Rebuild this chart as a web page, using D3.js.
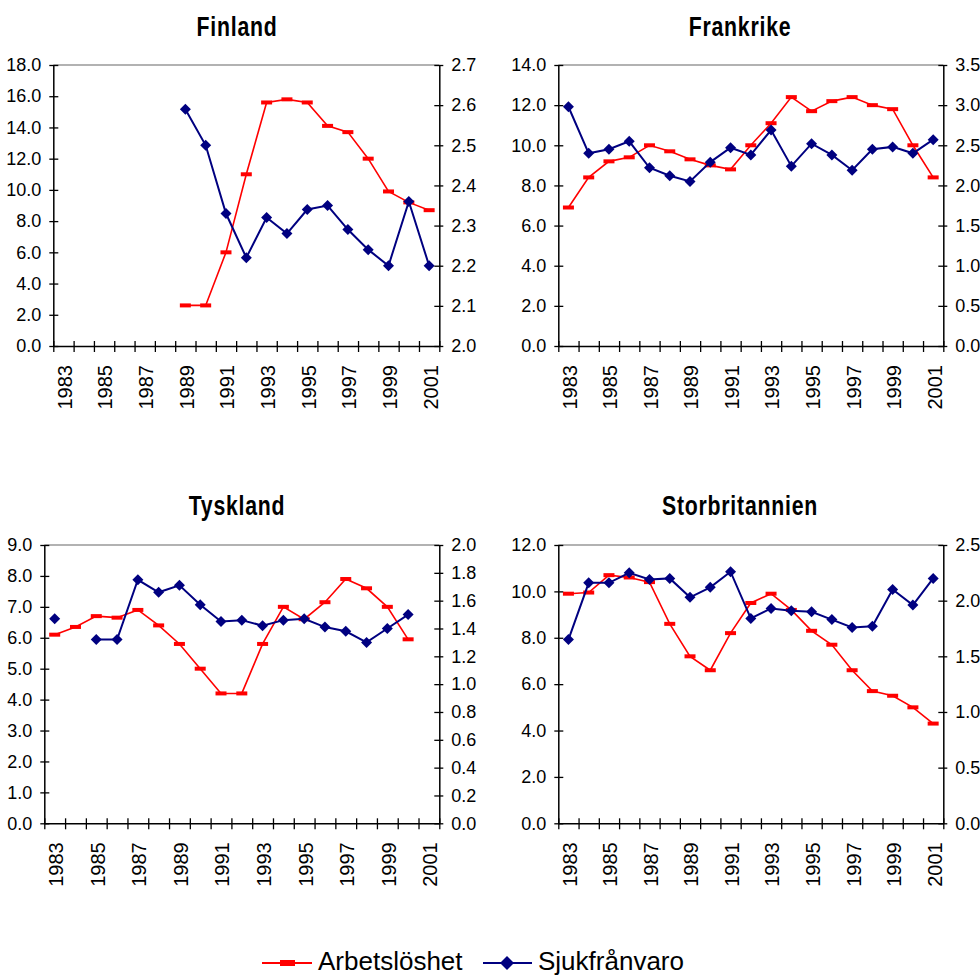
<!DOCTYPE html>
<html>
<head>
<meta charset="utf-8">
<script src="https://cdn.jsdelivr.net/npm/d3@7"></script>
<style>
  html, body { margin: 0; padding: 0; background: #fff; }
  svg { display: block; font-family: "Liberation Sans", Arial, sans-serif; }
</style>
</head>
<body>
<svg id="chart" width="980" height="975"></svg>
<script>
// Years on the category axis (every other one is labelled)
const years = [1983, 1984, 1985, 1986, 1987, 1988, 1989, 1990, 1991, 1992,
               1993, 1994, 1995, 1996, 1997, 1998, 1999, 2000, 2001];
const labelledYears = [1983, 1985, 1987, 1989, 1991, 1993, 1995, 1997, 1999, 2001];

// Arbetslöshet (left axis, %) and Sjukfrånvaro (right axis) per country
const finlandArbets = [null, null, null, null, null, null, 2.6, 2.6, 6.0, 11.0,
                       15.6, 15.8, 15.6, 14.1, 13.7, 12.0, 9.9, 9.2, 8.7];
const finlandSjuk   = [null, null, null, null, null, null, 2.59, 2.50, 2.33, 2.22,
                       2.32, 2.28, 2.34, 2.35, 2.29, 2.24, 2.20, 2.36, 2.20];

const frankrikeArbets = [6.9, 8.4, 9.2, 9.4, 10.0, 9.7, 9.3, 9.0, 8.8, 10.0,
                         11.1, 12.4, 11.7, 12.2, 12.4, 12.0, 11.8, 10.0, 8.4];
const frankrikeSjuk   = [2.98, 2.40, 2.45, 2.55, 2.22, 2.12, 2.05, 2.29, 2.47, 2.38,
                         2.69, 2.24, 2.52, 2.38, 2.19, 2.45, 2.48, 2.40, 2.57];

const tysklandArbets = [6.1, 6.35, 6.7, 6.65, 6.9, 6.4, 5.8, 5.0, 4.2, 4.2,
                        5.8, 7.0, 6.6, 7.15, 7.9, 7.6, 7.0, 5.95, null];
const tysklandSjuk   = [1.47, null, 1.32, 1.32, 1.75, 1.66, 1.71, 1.57, 1.45, 1.46,
                        1.42, 1.46, 1.47, 1.41, 1.38, 1.30, 1.40, 1.50, null];

const storbritArbets = [9.9, 9.95, 10.7, 10.6, 10.4, 8.6, 7.2, 6.6, 8.2, 9.5,
                        9.9, 9.2, 8.3, 7.7, 6.6, 5.7, 5.5, 5.0, 4.3];
const storbritSjuk   = [1.65, 2.16, 2.16, 2.25, 2.19, 2.20, 2.03, 2.12, 2.26, 1.84,
                        1.93, 1.91, 1.90, 1.83, 1.76, 1.77, 2.10, 1.96, 2.20];

// Axis tick values
const finlandLeftTicks    = [0, 2, 4, 6, 8, 10, 12, 14, 16, 18];
const finlandRightTicks   = [2.0, 2.1, 2.2, 2.3, 2.4, 2.5, 2.6, 2.7];
const frankrikeLeftTicks  = [0, 2, 4, 6, 8, 10, 12, 14];
const frankrikeRightTicks = [0, 0.5, 1.0, 1.5, 2.0, 2.5, 3.0, 3.5];
const tysklandLeftTicks   = [0, 1, 2, 3, 4, 5, 6, 7, 8, 9];
const tysklandRightTicks  = [0, 0.2, 0.4, 0.6, 0.8, 1.0, 1.2, 1.4, 1.6, 1.8, 2.0];
const storbritLeftTicks   = [0, 2, 4, 6, 8, 10, 12];
const storbritRightTicks  = [0, 0.5, 1.0, 1.5, 2.0, 2.5];

const titles = ["Finland", "Frankrike", "Tyskland", "Storbritannien"];
const seriesNames = ["Arbetslöshet", "Sjukfrånvaro"];

const RED = "#ff0000";
const NAVY = "#000080";

// Layout of the four panels
const panels = [
  { title: titles[0], arb: finlandArbets, sjuk: finlandSjuk,
    lt: finlandLeftTicks, rt: finlandRightTicks,
    x0: 53.3, x1: 439.3, y0: 65, y1: 346, tx: 237, ty: 36 },
  { title: titles[1], arb: frankrikeArbets, sjuk: frankrikeSjuk,
    lt: frankrikeLeftTicks, rt: frankrikeRightTicks,
    x0: 558.3, x1: 943.3, y0: 65, y1: 346, tx: 740, ty: 36 },
  { title: titles[2], arb: tysklandArbets, sjuk: tysklandSjuk,
    lt: tysklandLeftTicks, rt: tysklandRightTicks,
    x0: 44.3, x1: 439.3, y0: 545, y1: 823.3, tx: 237, ty: 515 },
  { title: titles[3], arb: storbritArbets, sjuk: storbritSjuk,
    lt: storbritLeftTicks, rt: storbritRightTicks,
    x0: 558.3, x1: 943.3, y0: 545, y1: 823.3, tx: 740, ty: 515 }
];

const svg = d3.select("#chart");
const fmt = d3.format(".1f");

function diamondPath(s) {
  return `M0,${-s}L${s},0L0,${s}L${-s},0Z`;
}

panels.forEach(p => {
  const g = svg.append("g");

  const x = d3.scaleBand().domain(years).range([p.x0, p.x1]);
  const xIdx = d3.scaleLinear().domain([0, years.length]).range([p.x0, p.x1]);
  const yL = d3.scaleLinear().domain(d3.extent(p.lt)).range([p.y1, p.y0]);
  const yR = d3.scaleLinear().domain(d3.extent(p.rt)).range([p.y1, p.y0]);

  // Title
  g.append("text")
    .attr("transform", `translate(${p.tx},${p.ty}) scale(0.76,1)`)
    .attr("text-anchor", "middle")
    .attr("font-size", 28)
    .attr("font-weight", "bold")
    .attr("letter-spacing", 1)
    .attr("fill", "#000")
    .text(p.title);

  // Plot frame top edge
  g.append("line")
    .attr("x1", p.x0).attr("x2", p.x1)
    .attr("y1", p.y0).attr("y2", p.y0)
    .attr("stroke", "#999").attr("stroke-width", 1.5);

  // Left axis
  const gl = g.append("g")
    .attr("transform", `translate(${p.x0},0)`)
    .call(d3.axisLeft(yL).tickValues(p.lt).tickFormat(fmt)
      .tickSizeOuter(0).tickSizeInner(4).tickPadding(8));
  gl.selectAll(".tick line").attr("x1", 5).attr("x2", -4);

  // Right axis
  const gr = g.append("g")
    .attr("transform", `translate(${p.x1},0)`)
    .call(d3.axisRight(yR).tickValues(p.rt).tickFormat(fmt)
      .tickSizeOuter(0).tickSizeInner(4).tickPadding(8));
  gr.selectAll(".tick line").attr("x1", -5).attr("x2", 4);

  // Category boundary ticks on the x axis
  const gx = g.append("g")
    .attr("transform", `translate(0,${p.y1})`)
    .call(d3.axisBottom(xIdx).tickValues(d3.range(years.length + 1))
      .tickFormat("").tickSizeOuter(0).tickSizeInner(6));
  gx.selectAll(".tick line").attr("y1", -5).attr("y2", 6);

  // Year labels, rotated
  const gxl = g.append("g")
    .attr("transform", `translate(0,${p.y1})`)
    .call(d3.axisBottom(x).tickValues(labelledYears).tickSize(0));
  gxl.select(".domain").remove();
  gxl.selectAll(".tick text")
    .attr("transform", "rotate(-90)")
    .attr("x", -19).attr("y", 0).attr("dy", "0.42em")
    .attr("text-anchor", "end")
    .attr("font-size", 20);

  [gl, gr, gx].forEach(a => {
    a.selectAll(".domain").attr("stroke", "#000").attr("stroke-width", 1.5);
    a.selectAll(".tick line").attr("stroke", "#000").attr("stroke-width", 1.3);
  });
  [gl, gr].forEach(a => a.selectAll(".tick text")
    .attr("font-size", 18).attr("fill", "#000"));
  gxl.selectAll(".tick text").attr("fill", "#000");

  const cx = (d, i) => x(years[i]) + x.bandwidth() / 2;

  // Arbetslöshet line + markers
  const arbLine = d3.line()
    .defined(d => d != null)
    .x((d, i) => cx(d, i))
    .y(d => yL(d));
  g.append("path").datum(p.arb)
    .attr("d", arbLine)
    .attr("fill", "none").attr("stroke", RED).attr("stroke-width", 1.6);
  g.selectAll(".arbMark")
    .data(p.arb.map((v, i) => ({ v, i })).filter(d => d.v != null))
    .join("rect")
    .attr("x", d => cx(d.v, d.i) - 5.5)
    .attr("y", d => yL(d.v) - 2)
    .attr("width", 11).attr("height", 4)
    .attr("fill", RED);

  // Sjukfrånvaro line + markers
  const sjukLine = d3.line()
    .defined(d => d != null)
    .x((d, i) => cx(d, i))
    .y(d => yR(d));
  g.append("path").datum(p.sjuk)
    .attr("d", sjukLine)
    .attr("fill", "none").attr("stroke", NAVY).attr("stroke-width", 2);
  g.selectAll(".sjukMark")
    .data(p.sjuk.map((v, i) => ({ v, i })).filter(d => d.v != null))
    .join("path")
    .attr("transform", d => `translate(${cx(d.v, d.i)},${yR(d.v)})`)
    .attr("d", diamondPath(5.5))
    .attr("fill", NAVY);
});

// Legend
const lg = svg.append("g");
lg.append("line").attr("x1", 262).attr("x2", 312).attr("y1", 963).attr("y2", 963)
  .attr("stroke", RED).attr("stroke-width", 2);
lg.append("rect").attr("x", 280).attr("y", 960).attr("width", 15).attr("height", 6)
  .attr("fill", RED);
lg.append("text").attr("x", 318).attr("y", 970)
  .attr("font-size", 26).attr("fill", "#000").text(seriesNames[0]);

lg.append("line").attr("x1", 483).attr("x2", 532).attr("y1", 963).attr("y2", 963)
  .attr("stroke", NAVY).attr("stroke-width", 2);
lg.append("path").attr("transform", "translate(507,963)")
  .attr("d", diamondPath(7)).attr("fill", NAVY);
lg.append("text").attr("x", 538).attr("y", 970)
  .attr("font-size", 26).attr("fill", "#000").text(seriesNames[1]);
</script>
</body>
</html>
